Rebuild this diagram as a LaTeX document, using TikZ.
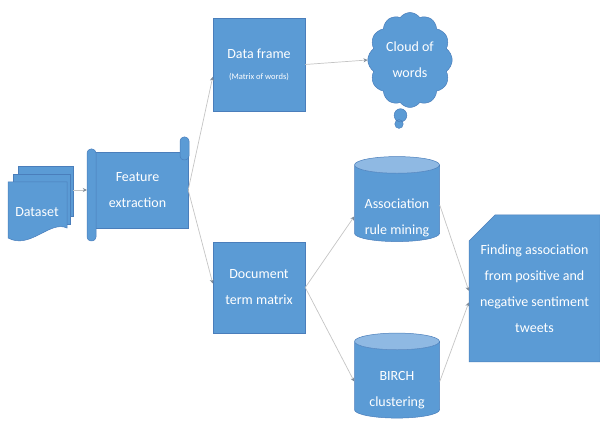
\documentclass[tikz,border=0pt]{standalone}
\usepackage{fontspec}
\setmainfont{Carlito}
\usetikzlibrary{shapes.geometric,shapes.callouts,arrows.meta}
\definecolor{boxblue}{HTML}{5B9BD5}
\definecolor{rimblue}{HTML}{4A7EBB}
\definecolor{topblue}{HTML}{8FB9E3}
\definecolor{linkgray}{HTML}{C4C4C4}
\definecolor{tipgray}{HTML}{7F8C9A}

\begin{document}
\begin{tikzpicture}[x=1pt, y=-1pt,
    every node/.style={font=\fontsize{14}{26}\selectfont, text=white, align=center},
    box/.style={rectangle, fill=boxblue, draw=rimblue, line width=0.5pt, minimum width=92pt, minimum height=92pt},
    drum/.style={cylinder, shape border rotate=90, aspect=2.5, cylinder uses custom fill,
        cylinder body fill=boxblue, cylinder end fill=topblue, draw=rimblue, line width=0.5pt,
        minimum width=85pt, minimum height=85pt},
    sheet/.style={fill=boxblue, draw=rimblue, line width=0.5pt},
    link/.style={draw=linkgray, line width=0.7pt, -{Stealth[length=4pt, width=4pt, color=tipgray]}}]
    \useasboundingbox (0,0) rectangle (600,427);

    % dataset (stacked pages)
    \foreach \s in {2,1}
        \filldraw[sheet] ({8+5*\s},{182-8*\s}) rectangle ({67+3*\s},{232-8*\s});
    \filldraw[sheet] (8,182) -- (67,182) -- (67,228) .. controls (50,220) and (30,250) .. (8,238) -- cycle;
    \node (data) at (37,212) {Dataset};
    \coordinate (dsout) at (73,190);

    % feature extraction (scroll)
    \filldraw[sheet] (92,152) rectangle (188,228);
    \filldraw[sheet, rounded corners=4pt] (180,137) rectangle (189,160);
    \filldraw[sheet, rounded corners=4pt] (87,149) rectangle (96,241);
    \node[minimum width=101pt, minimum height=76pt] (feat) at (137.5,190) {Feature\\extraction};

    \node[box, minimum height=93pt] (df) at (259,64.5) {Data frame\\[-5pt]{\fontsize{8.5}{9}\selectfont (Matrix of words)}};
    \node[box, minimum height=91pt] (doc) at (259,287.5) {Document\\term matrix};

    \node[cloud callout, cloud puffs=12, cloud puff arc=110, fill=boxblue, draw=rimblue, line width=0.5pt,
        minimum width=80pt, minimum height=95pt, callout absolute pointer={(399,124)}] (cloud) at (410,60) {Cloud of\\words};

    \node[drum] (assoc) at (397,205) {};
    \node (assoctxt) at (397,218) {Association\\rule mining};
    \node[drum] (birch) at (397,381.5) {};
    \node (birchtxt) at (397,390) {BIRCH\\clustering};

    % finding (cut corner)
    \filldraw[sheet] (469,241) -- (495,215) -- (600,215) -- (600,362) -- (469,362) -- cycle;
    \node[minimum width=131pt, minimum height=147pt] (find) at (534.5,288.5)
        {Finding association\\from positive and\\negative sentiment\\tweets};

    \draw[link] (dsout) -- (feat.west);
    \draw[link] (feat.east) -- (df.195);
    \draw[link] (feat.east) -- (doc.175);
    \draw[link] (df.east) -- (cloud.west);
    \draw[link] (doc.east) -- (assoc.195);
    \draw[link] (doc.east) -- (birch.west);
    \draw[link] (assoc.east) -- (find.182);
    \draw[link] (birch.east) -- (find.192);
\end{tikzpicture}
\end{document}
